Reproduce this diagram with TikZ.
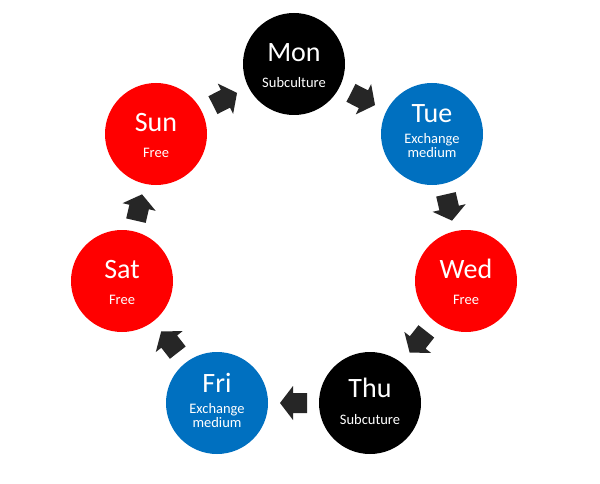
\documentclass[tikz,border=0pt]{standalone}
\usepackage{fontspec}
\setmainfont{Carlito}
\usetikzlibrary{calc}
\definecolor{cred}{HTML}{FF0000}
\definecolor{cblue}{HTML}{0070C0}
\definecolor{arrowc}{HTML}{262626}
\tikzset{
  day/.style={circle, minimum size=102pt, inner sep=0pt, draw=none},
  ttl/.style={text=white, anchor=base, inner sep=0pt, font=\fontsize{28}{30}\selectfont},
  sub/.style={text=white, anchor=base, inner sep=0pt, font=\fontsize{14.5}{16}\selectfont},
  blockarrow/.pic={\fill[arrowc] (-13.5,-10) -- (0.5,-10) -- (0.5,-17) -- (13.5,0) -- (0.5,17) -- (0.5,10) -- (-13.5,10) -- cycle;}
}
\begin{document}
\begin{tikzpicture}[x=1pt,y=1pt]
\fill[white] (0,0) rectangle (600,483);
\useasboundingbox (0,0) rectangle (600,483);
% circles
\node[day, fill=black] (mon) at (294,419) {};
\node[day, fill=cblue] (tue) at (432,349) {};
\node[day, fill=cred]  (wed) at (466,202) {};
\node[day, fill=black] (thu) at (370,80) {};
\node[day, fill=cblue] (fri) at (217,80) {};
\node[day, fill=cred]  (sat) at (122,202) {};
\node[day, fill=cred]  (sun) at (156,349) {};
% texts
\node[ttl] (monT) at ([yshift=2pt]mon.center) {Mon};
\node[sub] (monS) at ([yshift=-24pt]mon.center) {Subculture};
\node[ttl] (tueT) at ([yshift=11pt]tue.center) {Tue};
\node[sub] (tueS1) at ([yshift=-10pt]tue.center) {Exchange};
\node[sub] (tueS2) at ([yshift=-24pt]tue.center) {medium};
\node[ttl] (wedT) at ([yshift=3pt]wed.center) {Wed};
\node[sub] (wedS) at ([yshift=-23pt]wed.center) {Free};
\node[ttl] (thuT) at ([yshift=6pt]thu.center) {Thu};
\node[sub] (thuS) at ([yshift=-21pt]thu.center) {Subcuture};
\node[ttl] (friT) at ([yshift=11pt]fri.center) {Fri};
\node[sub] (friS1) at ([yshift=-10pt]fri.center) {Exchange};
\node[sub] (friS2) at ([yshift=-24pt]fri.center) {medium};
\node[ttl] (satT) at ([yshift=3pt]sat.center) {Sat};
\node[sub] (satS) at ([yshift=-23pt]sat.center) {Free};
\node[ttl] (sunT) at ([yshift=3pt]sun.center) {Sun};
\node[sub] (sunS) at ([yshift=-23pt]sun.center) {Free};
% block arrows
\foreach \a/\b in {mon/tue, tue/wed, wed/thu, thu/fri, fri/sat, sat/sun, sun/mon}{
  \path let \p1=($(\b)-(\a)$), \n1={atan2(\y1,\x1)} in
    ($(\a)!0.5!(\b)$) pic[rotate=\n1] {blockarrow};
}
\end{tikzpicture}
\end{document}
